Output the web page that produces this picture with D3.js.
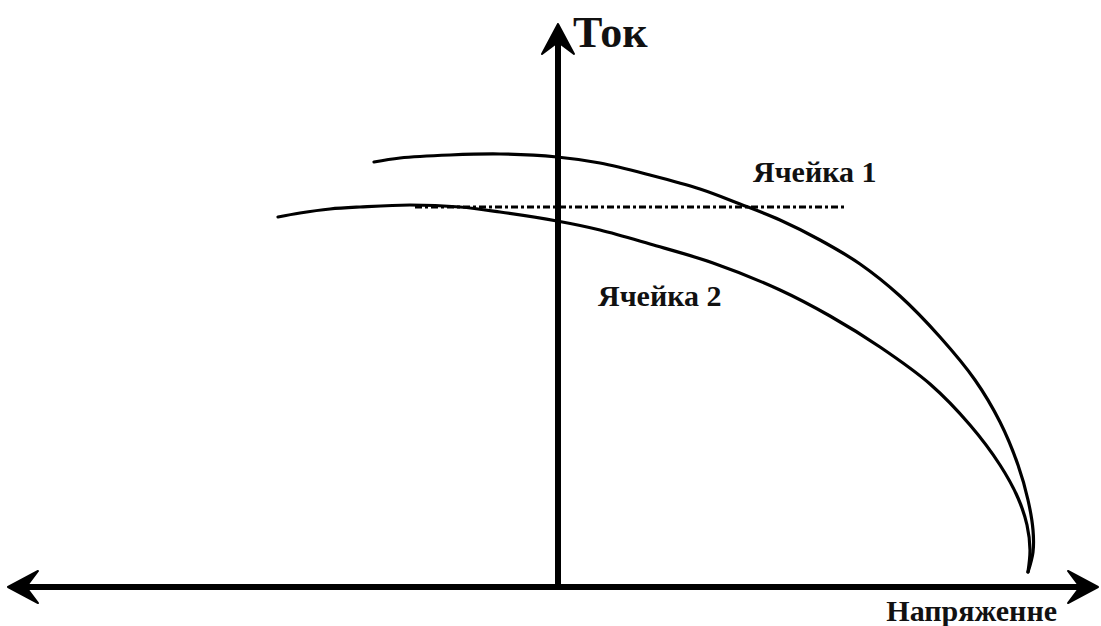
<!DOCTYPE html>
<html>
<head>
<meta charset="utf-8">
<script src="https://cdn.jsdelivr.net/npm/d3@7"></script>
<style>
  html, body { margin: 0; padding: 0; background: #fff; }
  svg { display: block; }
  text { font-family: "Liberation Serif", "Times New Roman", serif; font-weight: bold; fill: #111; }
</style>
</head>
<body>
<svg id="chart" width="1101" height="626"></svg>
<script>
// Current–voltage curves of two cells (arbitrary units)
const cell1Voltage = [-0.184, -0.158, -0.108, -0.058, -0.001, 0.042, 0.092, 0.142, 0.182, 0.222, 0.262, 0.302, 0.342, 0.382, 0.417, 0.442, 0.460, 0.470, 0.475, 0.475, 0.470];
const cell1Current = [0.850, 0.858, 0.864, 0.866, 0.860, 0.848, 0.824, 0.796, 0.766, 0.734, 0.694, 0.646, 0.582, 0.500, 0.414, 0.330, 0.244, 0.174, 0.114, 0.070, 0.030];

const cell2Voltage = [-0.280, -0.258, -0.228, -0.198, -0.148, -0.098, -0.058, -0.001, 0.042, 0.092, 0.155, 0.222, 0.272, 0.322, 0.372, 0.412, 0.442, 0.460, 0.469, 0.472, 0.470];
const cell2Current = [0.740, 0.748, 0.756, 0.760, 0.764, 0.760, 0.750, 0.732, 0.714, 0.686, 0.648, 0.594, 0.542, 0.480, 0.406, 0.324, 0.244, 0.178, 0.124, 0.074, 0.030];

// Dash-dot reference level
const refVoltage = [-0.143, 0.289];
const refCurrent = [0.760, 0.760];

const labels = ["Ячейка 1", "Ячейка 2"];
const axisTitles = { x: "Напряженне", y: "Ток" };

const svg = d3.select("#chart");

const x = d3.scaleLinear().domain([-0.55, 0.54]).range([8, 1098]);
const y = d3.scaleLinear().domain([0, 1.126]).range([587, 24]);

const line = d3.line()
  .x(d => x(d[0]))
  .y(d => y(d[1]))
  .curve(d3.curveCatmullRom.alpha(0.5));

const zip = (a, b) => a.map((v, i) => [v, b[i]]);

// Axes
const axisG = svg.append("g");
const x0 = x(0), y0 = y(0);
const headLen = 30, headHalf = 16, notch = 18;

axisG.append("line")
  .attr("x1", x.range()[0] + notch).attr("x2", x.range()[1] - notch)
  .attr("y1", y0).attr("y2", y0)
  .attr("stroke", "#000").attr("stroke-width", 6);

axisG.append("line")
  .attr("x1", x0).attr("x2", x0)
  .attr("y1", y0).attr("y2", y.range()[1] + notch)
  .attr("stroke", "#000").attr("stroke-width", 6);

// Arrowheads: tip, two wings and a notched back
function arrowHead(tx, ty, angle) {
  const p = d3.path();
  p.moveTo(0, 0);
  p.lineTo(-headLen, -headHalf);
  p.lineTo(-notch, 0);
  p.lineTo(-headLen, headHalf);
  p.closePath();
  axisG.append("path")
    .attr("d", p.toString())
    .attr("transform", `translate(${tx},${ty}) rotate(${angle})`)
    .attr("fill", "#000")
    .attr("stroke", "#000")
    .attr("stroke-width", 2)
    .attr("stroke-linejoin", "round");
}
arrowHead(x.range()[1], y0, 0);
arrowHead(x.range()[0], y0, 180);
arrowHead(x0, y.range()[1], -90);

// Curves
[[cell1Voltage, cell1Current], [cell2Voltage, cell2Current]].forEach(([v, c]) => {
  svg.append("path")
    .attr("d", line(zip(v, c)))
    .attr("fill", "none").attr("stroke", "#000").attr("stroke-width", 3.2)
    .attr("stroke-linecap", "round");
});

svg.append("line")
  .attr("x1", x(refVoltage[0])).attr("x2", x(refVoltage[1]))
  .attr("y1", y(refCurrent[0])).attr("y2", y(refCurrent[1]))
  .attr("stroke", "#000").attr("stroke-width", 3.2)
  .attr("stroke-dasharray", "7,3,3,3");

// Text
svg.append("text").attr("x", 573).attr("y", 47)
  .attr("font-size", 44).text(axisTitles.y);

svg.append("text").attr("x", 1057).attr("y", 621)
  .attr("text-anchor", "end")
  .attr("font-size", 30).text(axisTitles.x);

svg.append("text").attr("x", 753).attr("y", 182)
  .attr("font-size", 30).text(labels[0]);

svg.append("text").attr("x", 598).attr("y", 306)
  .attr("font-size", 30).text(labels[1]);
</script>
</body>
</html>
